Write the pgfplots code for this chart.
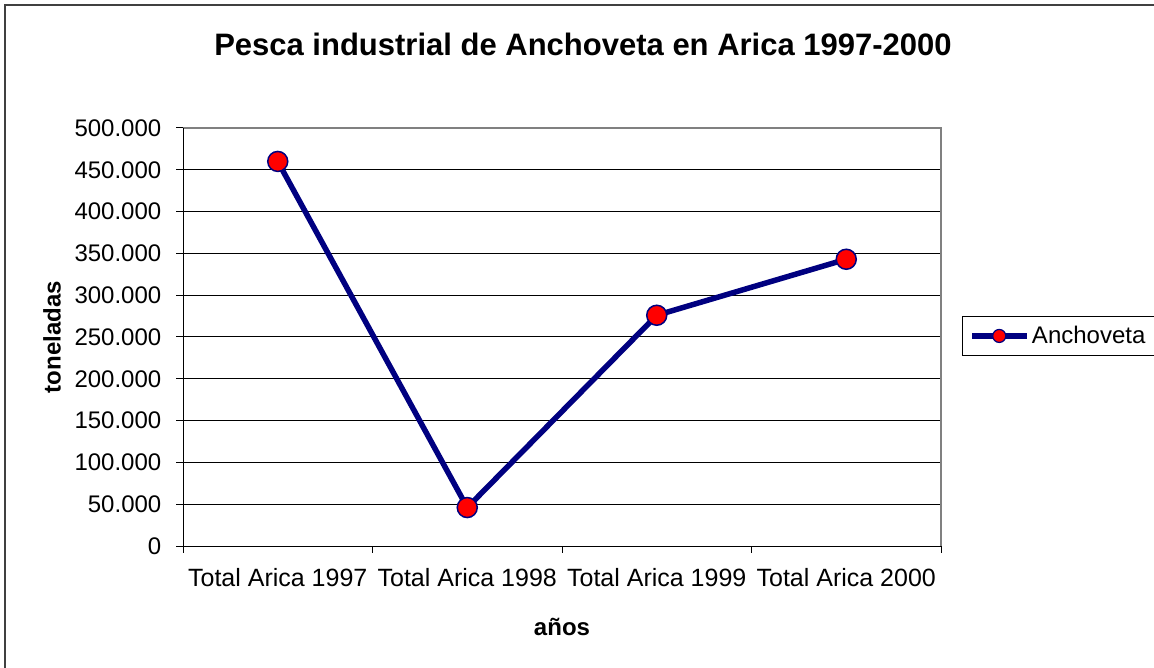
\documentclass[border=0pt]{standalone}
\usepackage{fontspec}
\setmainfont{Liberation Sans}
\usepackage{pgfplots}
\pgfplotsset{compat=1.18}
\definecolor{navy}{RGB}{0,0,128}
\definecolor{framegray}{RGB}{64,64,64}
\definecolor{bordergray}{RGB}{128,128,128}
\newcommand\fs{\fontsize{24bp}{29bp}\selectfont}
\newcommand\fx{\fontsize{25bp}{30bp}\selectfont}
\begin{document}
\begin{tikzpicture}
\useasboundingbox (0,0) rectangle (1154bp,668bp);
\fill[white] (0,0) rectangle (1154bp,668bp);
\draw[framegray, line width=2bp] (5bp,0) -- (5bp,663bp) -- (1154bp,663bp);
\begin{axis}[
  at={(183bp,122bp)}, anchor=south west,
  scale only axis, width=758bp, height=418bp,
  clip=false,
  xmin=-0.5, xmax=3.5, ymin=0, ymax=500000,
  xtick={-0.5,0.5,1.5,2.5,3.5},
  xticklabels={},
  extra x ticks={0,1,2,3},
  extra x tick labels={Total Arica 1997, Total Arica 1998, Total Arica 1999, Total Arica 2000},
  extra x tick style={major tick length=0pt, grid=none, tick style={draw=none}},
  ytick={0,50000,100000,150000,200000,250000,300000,350000,400000,450000,500000},
  yticklabels={0,50.000,100.000,150.000,200.000,250.000,300.000,350.000,400.000,450.000,500.000},
  scaled y ticks=false,
  tick style={draw=black, line width=1bp},
  tick align=outside, tick pos=left,
  major tick length=6.5bp,
  ymajorgrids, major grid style={black, line width=1bp},
  axis line style={draw=none},
  yticklabel style={font=\fs, anchor=east, inner sep=0pt, xshift=-15bp},
  xticklabel style={font=\fx, anchor=base, inner sep=0pt, yshift=-40bp},
  title={Pesca industrial de Anchoveta en Arica 1997-2000},
  title style={font=\bfseries\fontsize{31bp}{37bp}\selectfont, at={(axis description cs:0.5277,1.1866)}, anchor=center},
  xlabel={años},
  xlabel style={font=\bfseries\fs, at={(axis description cs:0.5,-0.194)}, anchor=center},
  ylabel={toneladas},
  ylabel style={font=\bfseries\fs, at={(axis description cs:-0.1728,0.5)}, anchor=center},
  legend style={at={(axis description cs:1.0277,0.5502)}, anchor=north west, draw=black, line width=1bp, font=\fs, inner xsep=7bp, inner ysep=8bp},
  legend cell align=left,
  legend image code/.code={
    \draw[navy, line width=5.5bp] (0bp,0bp) -- (55bp,0bp);
    \fill[red, draw=navy, line width=1.2bp] (27bp,0bp) circle (6.5bp);
  },
]
\draw[bordergray, line width=1.5bp] (rel axis cs:0,1) -- (rel axis cs:1,1) -- (rel axis cs:1,0);
\draw[black, line width=1bp] (rel axis cs:0,1) -- (rel axis cs:0,0) -- (rel axis cs:1,0);
\addplot[navy, line width=5.5bp, mark=*, mark size=10bp, mark options={fill=red, draw=navy, line width=1.5bp}]
  coordinates {(0,460000) (1,46000) (2,276000) (3,343000)};
\addlegendentry{Anchoveta}
\end{axis}
\end{tikzpicture}
\end{document}
